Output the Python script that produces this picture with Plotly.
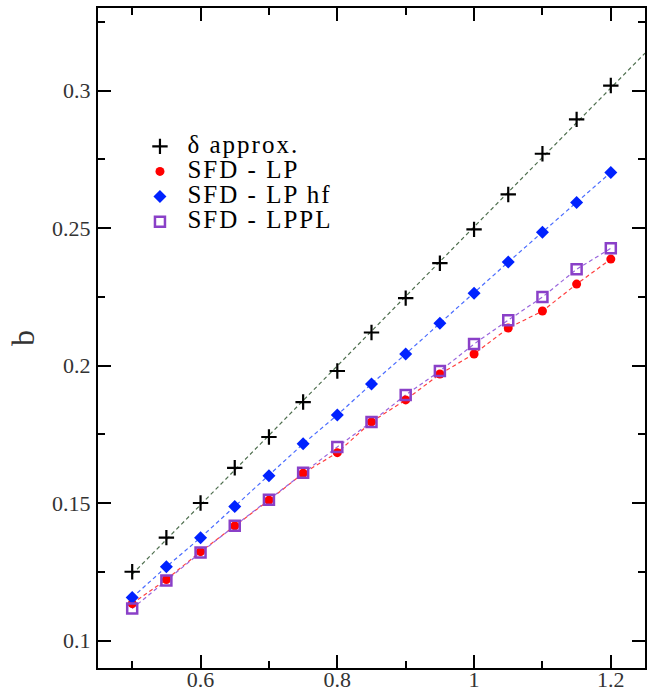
import numpy as np
import plotly.graph_objects as go

x = [0.5, 0.55, 0.6, 0.65, 0.7, 0.75, 0.8, 0.85, 0.9, 0.95, 1.0, 1.05, 1.1, 1.15, 1.2]
delta_approx = [0.125, 0.1374, 0.150, 0.1628, 0.174, 0.1867, 0.198, 0.212, 0.2245,
                0.2372, 0.2495, 0.2622, 0.277, 0.2895, 0.3018]
sfd_lp = [0.1134, 0.1222, 0.1323, 0.1417, 0.151, 0.1608, 0.1683, 0.1795, 0.1875,
          0.1969, 0.2042, 0.2136, 0.2198, 0.2296, 0.2387]
sfd_lp_hf = [0.1156, 0.1268, 0.1374, 0.1487, 0.1599, 0.1715, 0.182, 0.1933, 0.2042,
             0.2154, 0.2263, 0.2376, 0.2485, 0.2593, 0.2702]
sfd_lppl = [0.1116, 0.1218, 0.132, 0.1417, 0.1512, 0.161, 0.1704, 0.1795, 0.1893,
            0.198, 0.2078, 0.2165, 0.2249, 0.235, 0.2426]

names = ["δ approx.", "SFD - LP", "SFD - LP hf", "SFD - LPPL"]
x_ticks = [0.6, 0.8, 1.0, 1.2]
x_ticklabels = ["0.6", "0.8", "1", "1.2"]
x_minor = [0.5, 0.7, 0.9, 1.1]
y_ticks = [0.1, 0.15, 0.2, 0.25, 0.3]
y_ticklabels = ["0.1", "0.15", "0.2", "0.25", "0.3"]
y_minor = [0.125, 0.175, 0.225, 0.275, 0.325]

x_range = [0.45, 1.25]
y_range = [0.09, 0.33]

# straight-line fit drawn through the delta approximation, extended to the right edge
coef = np.polyfit(x, delta_approx, 1)
fit_x = [x[0], x_range[1]]
fit_y = list(np.polyval(coef, fit_x))

SERIF = "Liberation Serif, Times New Roman, serif"
dash = "4px,3px"


def leg(name):
    return f'<span style="font-size:25px;letter-spacing:2px">{name}</span>'


fig = go.Figure()
fig.add_trace(go.Scatter(x=fit_x, y=fit_y, mode="lines", showlegend=False,
                         line=dict(color="#4f6f4f", width=1.2, dash=dash)))
fig.add_trace(go.Scatter(x=x, y=sfd_lp, mode="lines", showlegend=False,
                         line=dict(color="#ff4040", width=1.2, dash=dash)))
fig.add_trace(go.Scatter(x=x, y=sfd_lp_hf, mode="lines", showlegend=False,
                         line=dict(color="#4a6cff", width=1.2, dash=dash)))
fig.add_trace(go.Scatter(x=x, y=sfd_lppl, mode="lines", showlegend=False,
                         line=dict(color="#9a66dd", width=1.2, dash=dash)))

fig.add_trace(go.Scatter(x=x, y=delta_approx, mode="markers", name=leg(names[0]),
                         marker=dict(symbol="cross-thin", size=11, color="black",
                                     line=dict(color="black", width=2.2))))
fig.add_trace(go.Scatter(x=x, y=sfd_lp, mode="markers", name=leg(names[1]),
                         marker=dict(symbol="circle", size=9, color="#ff0000",
                                     line=dict(width=0))))
fig.add_trace(go.Scatter(x=x, y=sfd_lp_hf, mode="markers", name=leg(names[2]),
                         marker=dict(symbol="diamond", size=10, color="#0022ff",
                                     line=dict(width=0))))
fig.add_trace(go.Scatter(x=x, y=sfd_lppl, mode="markers", name=leg(names[3]),
                         marker=dict(symbol="square-open", size=10, color="#8a40c8",
                                     line=dict(color="#8a40c8", width=2.5))))

axis_common = dict(
    showline=True, linecolor="black", linewidth=2, mirror="ticks",
    ticks="inside", ticklen=13, tickwidth=2, tickcolor="black",
    showgrid=False, zeroline=False, automargin=False,
    tickfont=dict(family=SERIF, size=22, color="#333333"),
)
minor_common = dict(ticks="inside", ticklen=7, tickwidth=2, tickcolor="black")

fig.update_xaxes(range=x_range, tickvals=x_ticks, ticktext=x_ticklabels,
                 minor=dict(tickvals=x_minor, **minor_common),
                 ticklabelstandoff=-9,
                 **axis_common)
fig.update_yaxes(range=y_range, tickvals=y_ticks, ticktext=y_ticklabels,
                 minor=dict(tickvals=y_minor, **minor_common),
                 ticklabelstandoff=1,
                 title=dict(text="b", font=dict(family=SERIF, size=32, color="#333333"), standoff=8),
                 **axis_common)

fig.update_layout(
    width=647, height=692,
    margin=dict(l=98, r=2, t=8, b=24),
    plot_bgcolor="white", paper_bgcolor="white",
    legend=dict(x=0.063, y=0.817, xanchor="left", yanchor="top",
                bgcolor="rgba(0,0,0,0)", borderwidth=0,
                font=dict(family=SERIF, size=17, color="black"),
                itemwidth=45, tracegroupgap=0),
)

fig.write_html("out.html")
